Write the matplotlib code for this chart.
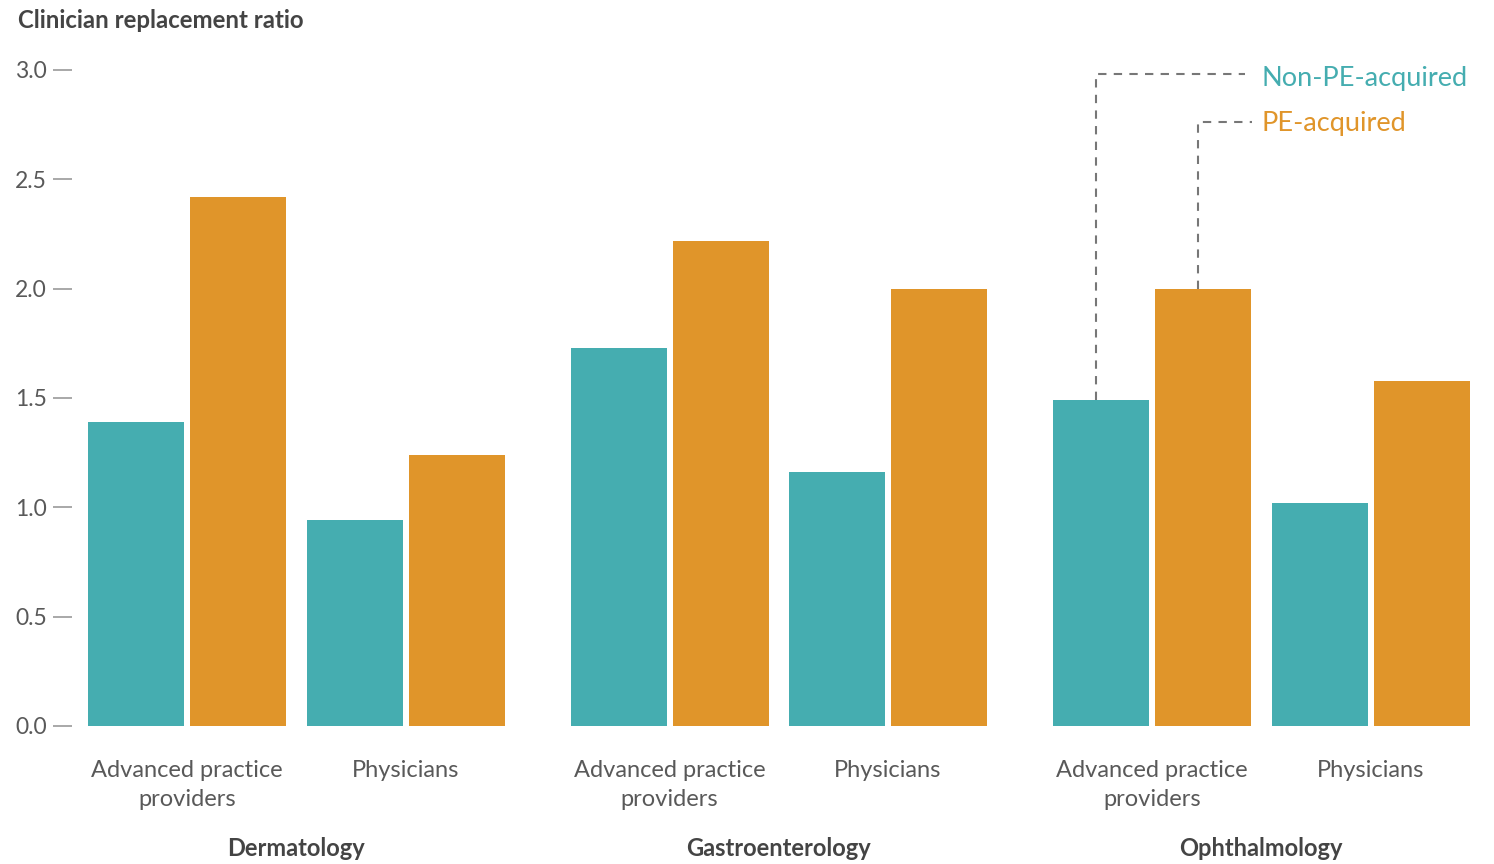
import numpy as np
import matplotlib.pyplot as plt

plt.rcParams['font.family'] = ['Lato', 'DejaVu Sans']

# Data
specialties = ['Dermatology', 'Gastroenterology', 'Ophthalmology']
roles = ['Advanced practice\nproviders', 'Physicians']
non_pe = [1.39, 0.94, 1.73, 1.16, 1.49, 1.02]
pe = [2.42, 1.24, 2.22, 2.00, 2.00, 1.58]
series_names = ['Non-PE-acquired', 'PE-acquired']

teal = '#45adb0'
orange = '#e0952a'
gray_txt = '#595959'

# layout (pixel-like data units on x)
group_gap = 482.5
sub_gap = 218.5
x0 = 187
bar_w = 96
half = 51

centers = np.array([x0 + g * group_gap + s * sub_gap for g in range(3) for s in range(2)])

fig = plt.figure(figsize=(14.94, 8.64), dpi=100)
ax = fig.add_axes([72 / 1494, 1 - 726 / 864, (1470 - 72) / 1494, (726 - 70) / 864])

ax.bar(centers - half, non_pe, width=bar_w, color=teal)
ax.bar(centers + half, pe, width=bar_w, color=orange)

ax.set_xlim(72, 1470)
ax.set_ylim(0, 3.0)
ax.set_yticks(np.arange(0, 3.01, 0.5))
ax.set_yticklabels([f'{v:.1f}' for v in np.arange(0, 3.01, 0.5)], fontsize=16.5,
                   color=gray_txt)
ax.tick_params(axis='y', length=14, width=1.2, color='#999999', pad=4)
ax.set_xticks([])
for sp in ax.spines.values():
    sp.set_visible(False)

# category labels
for i, c in enumerate(centers):
    ax.text(c, -0.155, roles[i % 2], ha='center', va='top', fontsize=17,
            color=gray_txt, linespacing=1.45, clip_on=False)
for g in range(3):
    mid = (centers[2 * g] + centers[2 * g + 1]) / 2
    ax.text(mid, -0.5625, specialties[g], ha='center', va='center', fontsize=17,
            fontweight='bold', color='#444444', clip_on=False)

# title
fig.text(18 / 1494, 1 - 20 / 864, 'Clinician replacement ratio', ha='left', va='center',
         fontsize=17.3, fontweight='bold', color='#444444')

# annotations on Ophthalmology APP bars
xa = centers[4] - half - 5
xb = centers[4] + half - 5
dash = dict(color='#777777', lw=1.5, linestyle=(0, (4, 3.5)))
y_np = 3.0 - (74 - 70) / 218.67
y_pe = 3.0 - (122 - 70) / 218.67
ax.plot([xa, xa, 1245], [non_pe[4], y_np, y_np], clip_on=False, **dash)
ax.plot([xb, xb, 1252], [pe[4], y_pe, y_pe], clip_on=False, **dash)
ax.text(1262, y_np - 0.02, series_names[0], color=teal, fontsize=19.5, va='center', ha='left')
ax.text(1262, y_pe - 0.005, series_names[1], color=orange, fontsize=19.5, va='center', ha='left')

fig.savefig('out.png', dpi=100)
